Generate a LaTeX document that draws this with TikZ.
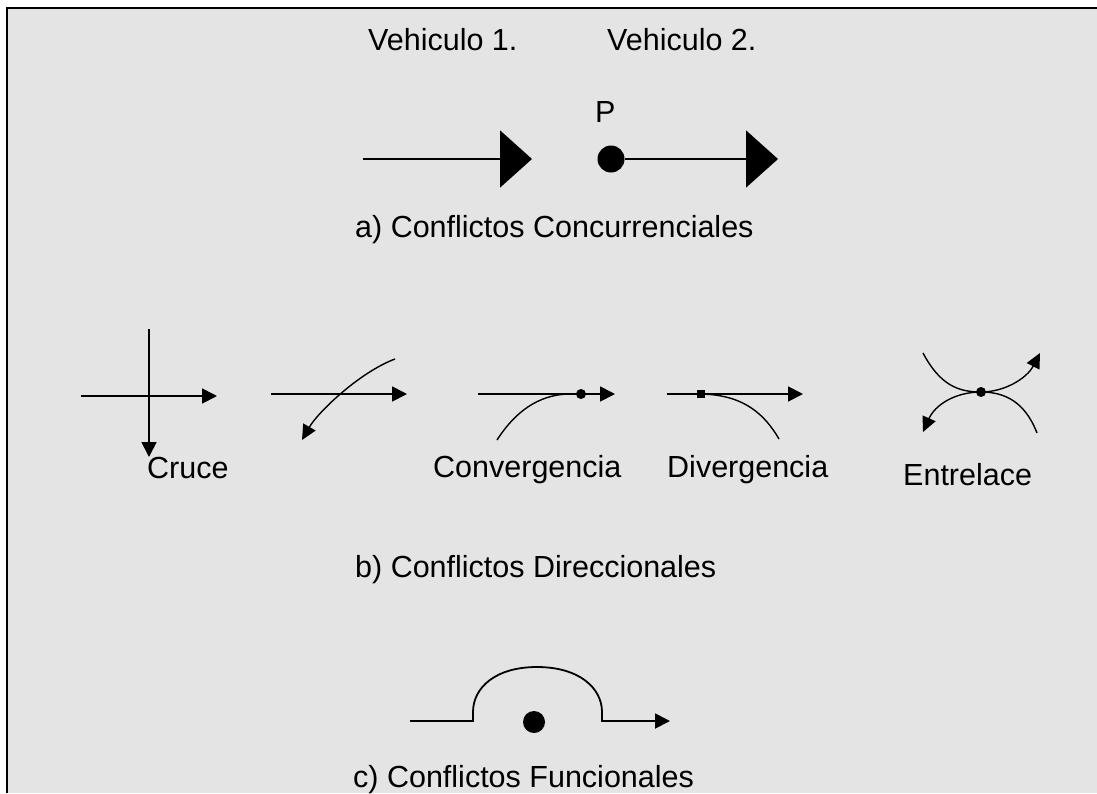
\documentclass[tikz,border=0pt]{standalone}
\usepackage{fontspec}
\setmainfont{Liberation Sans}
\usetikzlibrary{arrows.meta}
\definecolor{fondo}{RGB}{228,228,228}
\tikzset{
  texto/.style={anchor=base west,inner sep=0pt,font=\fontsize{30.5}{36}\selectfont},
  curva/.style={line width=1.4pt},
  gflecha/.style={-{Triangle[length=32pt,width=57pt]},line width=1.8pt},
  flecha/.style={-{Triangle[length=15pt,width=15pt]},line width=1.8pt},
  cflecha/.style={-{Triangle[length=15pt,width=14pt]},line width=1.4pt},
  punto/.style={circle,fill,inner sep=0pt,minimum size=#1},
  punto/.default=10pt,
  cuad/.style={rectangle,fill,inner sep=0pt,minimum size=8pt},
}

\begin{document}
\begin{tikzpicture}[x=1pt,y=-1pt]
  \useasboundingbox (0,0) rectangle (1097,793);
  \fill[fondo] (7,8) rectangle (1097,793);
  \draw[line width=2.5pt] (7,793) -- (7,8) -- (1097,8);

  % a) concurrenciales
  \node[texto] (v1) at (368,50) {Vehiculo 1.};
  \node[texto] (v2) at (607,50) {Vehiculo 2.};
  \node[texto] (lp) at (595,122) {P};
  \coordinate (a1) at (363,159);
  \coordinate (a2) at (532,159);
  \node[punto=27pt] (p) at (611,159) {};
  \coordinate (a3) at (778,159);
  \draw[gflecha] (a1) -- (a2);
  \draw[gflecha] (p) -- (a3);
  \node[texto] (ta) at (355,237) {a) Conflictos Concurrenciales};

  % b) cruce
  \coordinate (c1) at (81,396); \coordinate (c2) at (217,396);
  \coordinate (c3) at (149,329); \coordinate (c4) at (149,457);
  \draw[flecha] (c1) -- (c2);
  \draw[flecha] (c3) -- (c4);
  \node[texto] (tc) at (147,478) {Cruce};

  \coordinate (d1) at (271,394); \coordinate (d2) at (407,394);
  \coordinate (d3) at (395,359); \coordinate (d4) at (302,440);
  \draw[flecha] (d1) -- (d2);
  \draw[cflecha] (d3) .. controls (360,372) and (318,412) .. (d4);

  % convergencia
  \coordinate (e1) at (478,394); \coordinate (e2) at (615,394);
  \node[punto] (e) at (581,394) {};
  \coordinate (e3) at (497,440); \coordinate (e4) at (568,394);
  \draw[flecha] (e1) -- (e2);
  \draw[curva] (e3) .. controls (515,412) and (538,395) .. (e4);
  \node[texto] (te) at (433,477) {Convergencia};

  % divergencia
  \coordinate (f1) at (667,394); \coordinate (f2) at (803,394);
  \node[cuad] (f) at (701,394) {};
  \coordinate (f3) at (779,439);
  \draw[flecha] (f1) -- (f2);
  \draw[curva] (f) .. controls (745,396) and (765,415) .. (f3);
  \node[texto] (tf) at (667,477) {Divergencia};

  % entrelace
  \node[punto] (g) at (981,392) {};
  \coordinate (g1) at (923,353); \coordinate (g2) at (1040,353);
  \coordinate (g3) at (1037,433); \coordinate (g4) at (923,432);
  \draw[cflecha] (g1) .. controls (940,385) and (958,392) .. (g.center)
    .. controls (1005,392) and (1027,378) .. (g2);
  \draw[cflecha] (g3) .. controls (1025,402) and (1005,392) .. (g.center)
    .. controls (955,392) and (935,405) .. (g4);
  \node[texto] (tg) at (903,485) {Entrelace};

  \node[texto] (tb) at (355,577) {b) Conflictos Direccionales};

  % c) funcionales
  \coordinate (h1) at (410,721); \coordinate (h2) at (670,721);
  \node[punto=22pt] (h) at (534,722) {};
  \draw[flecha] (h1) -- (473,721) -- (473,712) .. controls (473,688) and (495,667) .. (537,667)
    .. controls (579,667) and (602,688) .. (602,712) -- (602,721) -- (h2);
  \node[texto] (th) at (353,787) {c) Conflictos Funcionales};
\end{tikzpicture}
\end{document}
